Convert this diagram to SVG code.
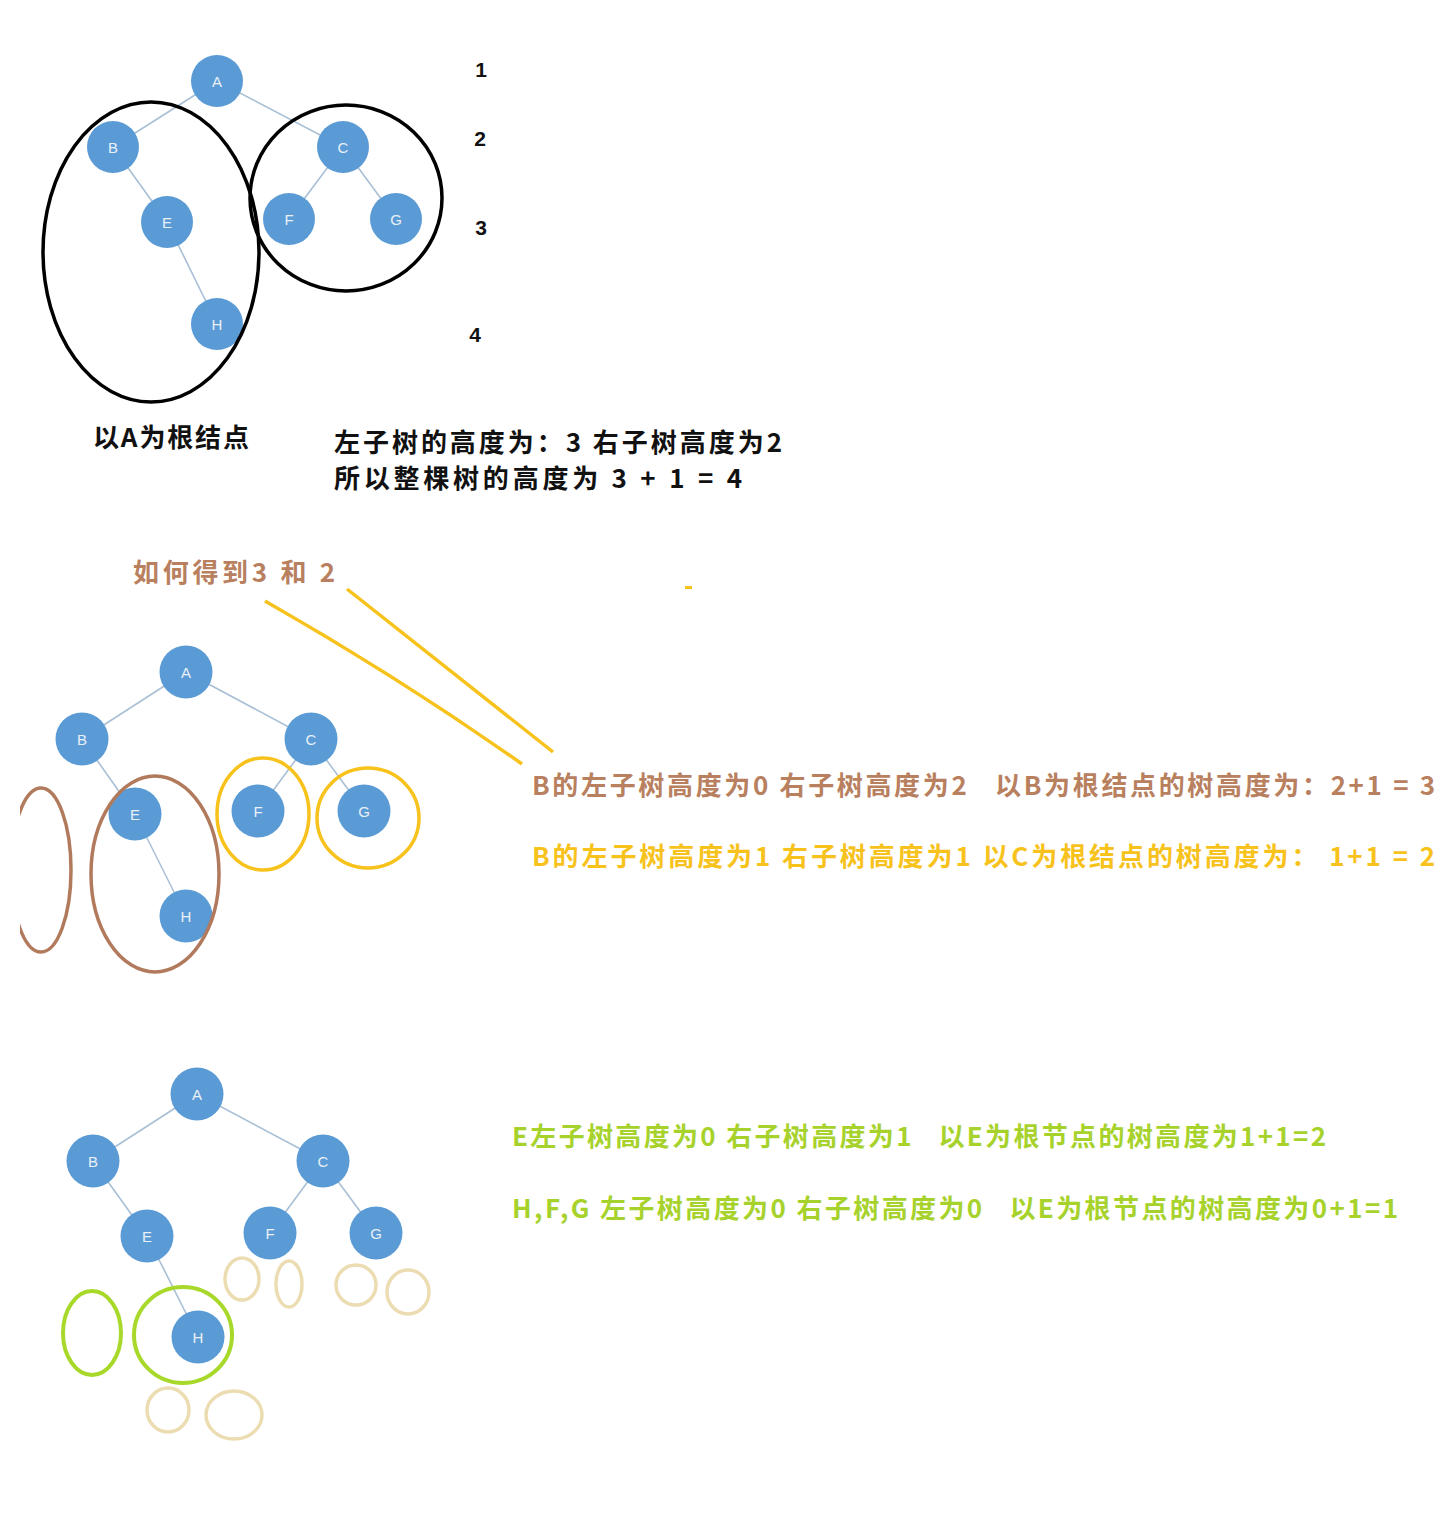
<svg xmlns="http://www.w3.org/2000/svg" width="1441" height="1522" viewBox="0 0 1441 1522">
<defs>
<style>
.edge{stroke:#a8bfd6;stroke-width:1.6;fill:none}
.node circle{fill:#5b9bd5}
.node text{fill:#e9f0f8;font-family:"Liberation Sans","DejaVu Sans",sans-serif;font-size:15px;text-anchor:middle;dominant-baseline:central}
.t{font-family:"Noto Sans CJK SC","Liberation Sans",sans-serif;font-weight:bold;white-space:pre}
.blk{fill:#111;font-size:26px}
.num{fill:#111;font-family:"Liberation Sans",sans-serif;font-weight:bold;font-size:21px;text-anchor:middle}
.brown{fill:#b8805e;font-size:26px}
.yel{fill:#f7c21b;font-size:26px}
.grn{fill:#a7d22c;font-size:26px}
.ring-k{fill:none;stroke:#000;stroke-width:3.5}
.ring-b{fill:none;stroke:#b27a5c;stroke-width:3.5}
.ring-y{fill:none;stroke:#f7c21b;stroke-width:3.5}
.ring-g{fill:none;stroke:#a7d82a;stroke-width:4}
.ring-t{fill:none;stroke:#ecdcb1;stroke-width:3.5}
</style>
<clipPath id="clipL"><rect x="20" y="0" width="1421" height="1522"/></clipPath>
</defs>
<rect width="1441" height="1522" fill="#fff"/>

<!-- Tree 1 connectors -->
<g id="connectors1">
<line class="edge" x1="217" y1="81" x2="113" y2="147"/>
<line class="edge" x1="217" y1="81" x2="343" y2="147"/>
<line class="edge" x1="113" y1="147" x2="167" y2="222"/>
<line class="edge" x1="167" y1="222" x2="217" y2="324"/>
<line class="edge" x1="343" y1="147" x2="289" y2="219"/>
<line class="edge" x1="343" y1="147" x2="396" y2="219"/>
</g>
<g id="t1A" class="node"><circle cx="217" cy="81" r="26"/><text x="217" y="81">A</text></g>
<g id="t1B" class="node"><circle cx="113" cy="147" r="26"/><text x="113" y="147">B</text></g>
<g id="t1C" class="node"><circle cx="343" cy="147" r="26"/><text x="343" y="147">C</text></g>
<g id="t1E" class="node"><circle cx="167" cy="222" r="26"/><text x="167" y="222">E</text></g>
<g id="t1F" class="node"><circle cx="289" cy="219" r="26"/><text x="289" y="219">F</text></g>
<g id="t1G" class="node"><circle cx="396" cy="219" r="26"/><text x="396" y="219">G</text></g>
<g id="t1H" class="node"><circle cx="217" cy="324" r="26"/><text x="217" y="324">H</text></g>
<ellipse class="ring-k" cx="151" cy="252" rx="108" ry="150"/>
<ellipse class="ring-k" cx="346" cy="198" rx="96" ry="93"/>
<text class="num" x="481" y="77">1</text>
<text class="num" x="480" y="146">2</text>
<text class="num" x="481" y="235">3</text>
<text class="num" x="475" y="342">4</text>
<text class="t blk" x="93" y="447" textLength="156">以A为根结点</text>
<text class="t blk" x="334" y="452" textLength="448">左子树的高度为：3 右子树高度为2</text>
<text class="t blk" x="334" y="488" textLength="408">所以整棵树的高度为 3 + 1 = 4</text>

<!-- Middle section -->
<text class="t brown" x="133" y="582" textLength="202">如何得到3 和 2</text>
<path d="M265,601 Q400,678 522,764" fill="none" stroke="#f7c21b" stroke-width="3.5"/>
<path d="M347,589 L553,752" fill="none" stroke="#f7c21b" stroke-width="3.5"/>
<rect x="685" y="586" width="7" height="3" fill="#f7c21b"/>

<g id="connectors2">
<line class="edge" x1="186" y1="672" x2="82" y2="739"/>
<line class="edge" x1="186" y1="672" x2="311" y2="739"/>
<line class="edge" x1="82" y1="739" x2="135" y2="814"/>
<line class="edge" x1="135" y1="814" x2="186" y2="916"/>
<line class="edge" x1="311" y1="739" x2="258" y2="811"/>
<line class="edge" x1="311" y1="739" x2="364" y2="811"/>
</g>
<g id="t2A" class="node"><circle cx="186" cy="672" r="26.5"/><text x="186" y="672">A</text></g>
<g id="t2B" class="node"><circle cx="82" cy="739" r="26.5"/><text x="82" y="739">B</text></g>
<g id="t2C" class="node"><circle cx="311" cy="739" r="26.5"/><text x="311" y="739">C</text></g>
<g id="t2E" class="node"><circle cx="135" cy="814" r="26.5"/><text x="135" y="814">E</text></g>
<g id="t2F" class="node"><circle cx="258" cy="811" r="26.5"/><text x="258" y="811">F</text></g>
<g id="t2G" class="node"><circle cx="364" cy="811" r="26.5"/><text x="364" y="811">G</text></g>
<g id="t2H" class="node"><circle cx="186" cy="916" r="26.5"/><text x="186" y="916">H</text></g>
<ellipse class="ring-b" cx="41" cy="870" rx="30" ry="82" clip-path="url(#clipL)"/>
<ellipse class="ring-b" cx="155" cy="874" rx="64" ry="98"/>
<ellipse class="ring-y" cx="263" cy="814" rx="46" ry="56"/>
<ellipse class="ring-y" cx="368" cy="818" rx="51" ry="50"/>
<text class="t brown" x="532" y="795" textLength="903">B的左子树高度为0 右子树高度为2   以B为根结点的树高度为：2+1 = 3</text>
<text class="t yel" x="532" y="866" textLength="903">B的左子树高度为1 右子树高度为1 以C为根结点的树高度为： 1+1 = 2</text>

<!-- Bottom section -->
<g id="connectors3">
<line class="edge" x1="197" y1="1094" x2="93" y2="1161"/>
<line class="edge" x1="197" y1="1094" x2="323" y2="1161"/>
<line class="edge" x1="93" y1="1161" x2="147" y2="1236"/>
<line class="edge" x1="147" y1="1236" x2="198" y2="1337"/>
<line class="edge" x1="323" y1="1161" x2="270" y2="1233"/>
<line class="edge" x1="323" y1="1161" x2="376" y2="1233"/>
</g>
<g id="t3A" class="node"><circle cx="197" cy="1094" r="26.5"/><text x="197" y="1094">A</text></g>
<g id="t3B" class="node"><circle cx="93" cy="1161" r="26.5"/><text x="93" y="1161">B</text></g>
<g id="t3C" class="node"><circle cx="323" cy="1161" r="26.5"/><text x="323" y="1161">C</text></g>
<g id="t3E" class="node"><circle cx="147" cy="1236" r="26.5"/><text x="147" y="1236">E</text></g>
<g id="t3F" class="node"><circle cx="270" cy="1233" r="26.5"/><text x="270" y="1233">F</text></g>
<g id="t3G" class="node"><circle cx="376" cy="1233" r="26.5"/><text x="376" y="1233">G</text></g>
<g id="t3H" class="node"><circle cx="198" cy="1337" r="26.5"/><text x="198" y="1337">H</text></g>
<ellipse class="ring-g" cx="92" cy="1333" rx="29" ry="42"/>
<ellipse class="ring-g" cx="183" cy="1335" rx="49" ry="48"/>
<ellipse class="ring-t" cx="242" cy="1279" rx="17" ry="21"/>
<ellipse class="ring-t" cx="289" cy="1284" rx="13" ry="23"/>
<ellipse class="ring-t" cx="356" cy="1285" rx="20" ry="20"/>
<ellipse class="ring-t" cx="408" cy="1292" rx="21" ry="22"/>
<ellipse class="ring-t" cx="168" cy="1410" rx="21" ry="22"/>
<ellipse class="ring-t" cx="234" cy="1415" rx="28" ry="24"/>
<text class="t grn" x="512" y="1146" textLength="814">E左子树高度为0 右子树高度为1   以E为根节点的树高度为1+1=2</text>
<text class="t grn" x="512" y="1218" textLength="886">H,F,G 左子树高度为0 右子树高度为0   以E为根节点的树高度为0+1=1</text>
</svg>
